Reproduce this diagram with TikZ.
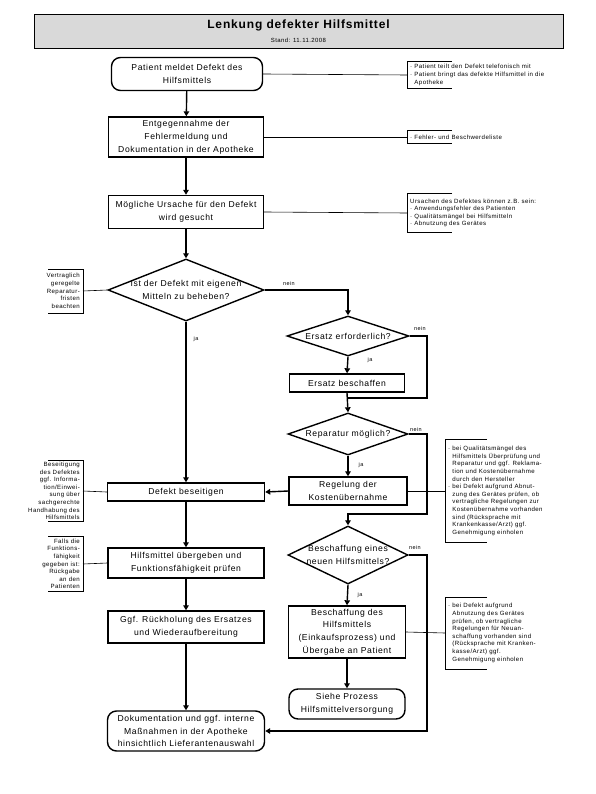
\documentclass[tikz,border=0pt]{standalone}
\usepackage{fontspec}
\setmainfont{Liberation Sans}[LetterSpace=7]
\usetikzlibrary{shapes.geometric,arrows.meta}
\begin{document}
\begin{tikzpicture}[x=1pt,y=-1pt,
    box/.style={draw, line width=1.4pt, align=center, inner sep=1pt, font=\fontsize{8.6}{12.8}\selectfont},
    rbox/.style={box, rounded corners=9pt},
    dec/.style={draw, diamond, aspect=2, line width=1.4pt, align=center, inner sep=-14pt, font=\fontsize{8.6}{12.8}\selectfont},
    rnote/.style={anchor=west, align=left, inner xsep=3pt, inner ysep=0pt, font=\fontsize{6.1}{7.6}\selectfont},
    lnote/.style={anchor=east, align=right, inner xsep=3pt, inner ysep=0pt, font=\fontsize{6.1}{7.6}\selectfont},
    flow/.style={line width=1.4pt, -{Triangle[length=5pt,width=5.5pt]}},
    plain/.style={line width=1.4pt},
    lnk/.style={line width=0.6pt},
    yn/.style={inner sep=0pt, font=\fontsize{5.5}{6}\selectfont}]
\useasboundingbox (0,0) rectangle (595,794);
\node[draw, line width=0.8pt, fill=black!15, minimum width=529pt, minimum height=34pt] (title) at (298.5,31) {};
\node[font=\bfseries\fontsize{12}{14}\selectfont] (ttl) at (298.5,25) {Lenkung defekter Hilfsmittel};
\node[font=\fontsize{6}{7}\selectfont] (stand) at (298.5,40) {Stand: 11.11.2008};

\node[rbox, minimum width=151pt, minimum height=33pt] (a1) at (187,74) {Patient meldet Defekt des\\Hilfsmittels};
\node[box, minimum width=155pt, minimum height=40pt] (a2) at (186,137) {Entgegennahme der\\Fehlermeldung und\\Dokumentation in der Apotheke};
\node[box, minimum width=155pt, minimum height=33pt] (a3) at (186,212) {Mögliche Ursache für den Defekt\\wird gesucht};
\node[dec, minimum width=156pt, minimum height=62pt] (d1) at (186,290) {Ist der Defekt mit eigenen\\Mitteln zu beheben?};
\node[dec, minimum width=122pt, minimum height=40pt] (d2) at (348,336) {Ersatz erforderlich?};
\node[box, minimum width=115pt, minimum height=18pt] (b1) at (347,383) {Ersatz beschaffen};
\node[dec, minimum width=120pt, minimum height=42pt] (d3) at (348,434) {Reparatur möglich?};
\node[box, minimum width=118pt, minimum height=28pt] (b2) at (348,491) {Regelung der\\Kostenübernahme};
\node[box, minimum width=157pt, minimum height=18pt] (b3) at (186,492) {Defekt beseitigen};
\node[dec, minimum width=120pt, minimum height=58pt] (d4) at (348,555) {Beschaffung eines\\neuen Hilfsmittels?};
\node[box, minimum width=117pt, minimum height=52pt] (b4) at (347,632) {Beschaffung des\\Hilfsmittels\\(Einkaufsprozess) und\\Übergabe an Patient};
\node[rbox, minimum width=116pt, minimum height=30pt] (b5) at (347,704) {Siehe Prozess\\Hilfsmittelversorgung};
\node[box, minimum width=156pt, minimum height=30pt] (b6) at (186,563) {Hilfsmittel übergeben und\\Funktionsfähigkeit prüfen};
\node[box, minimum width=156pt, minimum height=32pt] (b7) at (186,627) {Ggf. Rückholung des Ersatzes\\und Wiederaufbereitung};
\node[rbox, minimum width=157pt, minimum height=40pt] (b8) at (186,731) {Dokumentation und ggf. interne\\Maßnahmen in der Apotheke\\hinsichtlich Lieferantenauswahl};

\node[rnote, minimum height=26pt] (n1) at (407,75) {· Patient teilt den Defekt telefonisch mit\\· Patient bringt das defekte Hilfsmittel in die\\\ \ Apotheke};
\node[rnote, minimum height=13pt] (n2) at (407,137) {· Fehler- und Beschwerdeliste};
\node[rnote, minimum height=39pt] (n3) at (407,213) {Ursachen des Defektes können z.B. sein:\\· Anwendungsfehler des Patienten\\· Qualitätsmängel bei Hilfsmitteln\\· Abnutzung des Gerätes};
\node[rnote, minimum height=103pt] (n4) at (445,491) {· bei Qualitätsmängel des\\\ \ Hilfsmittels Überprüfung und\\\ \ Reparatur und ggf. Reklama-\\\ \ tion und Kostenübernahme\\\ \ durch den Hersteller\\· bei Defekt aufgrund Abnut-\\\ \ zung des Gerätes prüfen, ob\\\ \ vertragliche Regelungen zur\\\ \ Kostenübernahme vorhanden\\\ \ sind (Rücksprache mit\\\ \ Krankenkasse/Arzt) ggf.\\\ \ Genehmigung einholen};
\node[rnote, minimum height=72pt] (n5) at (445,633) {· bei Defekt aufgrund\\\ \ Abnutzung des Gerätes\\\ \ prüfen, ob vertragliche\\\ \ Regelungen für Neuan-\\\ \ schaffung vorhanden sind\\\ \ (Rücksprache mit Kranken-\\\ \ kasse/Arzt) ggf.\\\ \ Genehmigung einholen};
\node[lnote, minimum height=44pt] (n6) at (83,291) {Vertraglich\\geregelte\\Reparatur-\\fristen\\beachten};
\node[lnote, minimum height=61pt] (n7) at (83,491) {Beseitigung\\des Defektes\\ggf. Informa-\\tion/Einwei-\\sung über\\sachgerechte\\Handhabung des\\Hilfsmittels};
\node[lnote, minimum height=55pt] (n8) at (83,564) {Falls die\\Funktions-\\fähigkeit\\gegeben ist:\\Rückgabe\\an den\\Patienten};

\foreach \n in {n1,n2,n3}
  \draw[lnk] ([xshift=45pt]\n.north west) -- (\n.north west) -- (\n.south west) -- ([xshift=45pt]\n.south west);
\foreach \n in {n4,n5}
  \draw[lnk] ([xshift=42pt]\n.north west) -- (\n.north west) -- (\n.south west) -- ([xshift=42pt]\n.south west);
\foreach \n in {n6,n7,n8}
  \draw[lnk] ([xshift=-35pt]\n.north east) -- (\n.north east) -- (\n.south east) -- ([xshift=-35pt]\n.south east);

\draw[lnk] (a1.east) -- (n1.west);
\draw[lnk] (a2.east) -- (n2.west);
\draw[lnk] (a3.east) -- (n3.west);
\draw[lnk] (b2.east) -- (n4.west);
\draw[lnk] (b4.east) -- (n5.west);
\draw[lnk] (n6.east) -- (d1.west);
\draw[lnk] (n7.east) -- (b3.west);
\draw[lnk] (n8.east) -- (b6.west);

\coordinate (rx) at (427,0);
\coordinate (j1) at (348,398);
\coordinate (j2) at (348,514);

\draw[flow] (a1) -- (a2);
\draw[flow] (a2) -- (a3);
\draw[flow] (a3) -- (d1);
\draw[flow] (d1.east) -| (d2.north);
\draw[flow] (d1.south) -- (b3.north);
\draw[flow] (d2.south) -- (b1.north);
\draw[flow] (b1.south) -- (d3.north);
\draw[plain] (d2.east) -- (d2.east -| rx) |- (j1);
\draw[flow] (d3.south) -- (b2.north);
\draw[flow] (b2.west) -- (b3.east);
\draw[flow] (d3.east) -- (d3.east -| rx) |- (j2) -- (d4.north);
\draw[flow] (d4.south) -- (b4.north);
\draw[flow] (b4.south) -- (b5.north);
\draw[flow] (d4.east) -- (d4.east -| rx) |- (b8.east);
\draw[flow] (b3.south) -- (b6.north);
\draw[flow] (b6.south) -- (b7.north);
\draw[flow] (b7.south) -- (b8.north);

\node[yn] (no1) at (289,284) {nein};
\node[yn] (no2) at (420,329) {nein};
\node[yn] (no3) at (416,430) {nein};
\node[yn] (no4) at (415,548) {nein};
\node[yn] (ja1) at (196,339) {ja};
\node[yn] (ja2) at (370,360) {ja};
\node[yn] (ja3) at (361,465) {ja};
\node[yn] (ja4) at (360,595) {ja};
\end{tikzpicture}
\end{document}
